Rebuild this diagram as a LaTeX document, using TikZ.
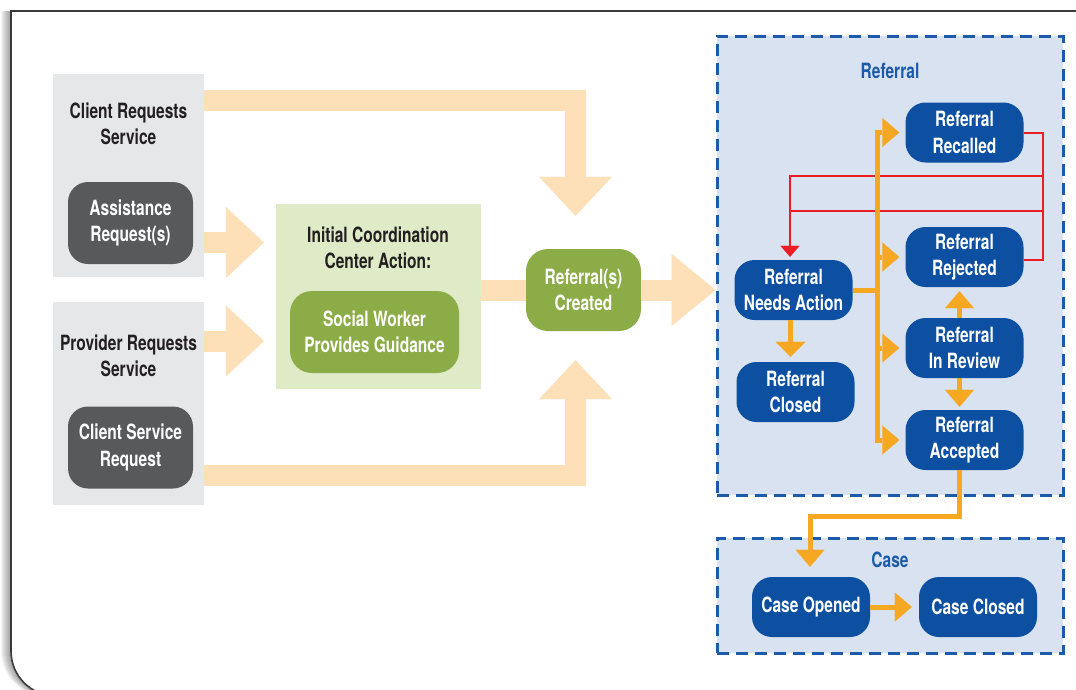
\documentclass[tikz,border=0pt]{standalone}
\usepackage{fontspec}
\newfontfamily\cond{TeX Gyre Heros}[FakeStretch=0.74]
\usetikzlibrary{arrows.meta,calc}

\definecolor{peach}{HTML}{FDE0B7}
\definecolor{panelgray}{HTML}{E6E7E8}
\definecolor{darkbox}{HTML}{58595B}
\definecolor{palegreen}{HTML}{DEEBC6}
\definecolor{leaf}{HTML}{8CAC47}
\definecolor{navy}{HTML}{0D4FA0}
\definecolor{paleblue}{HTML}{D9E2F1}
\definecolor{dashblue}{HTML}{1C5AAA}
\definecolor{amber}{HTML}{F7A823}
\definecolor{alert}{HTML}{ED1C24}
\definecolor{ink}{HTML}{231F20}
\definecolor{framegray}{HTML}{3A3A3A}

\begin{document}
\begin{tikzpicture}[x=1pt,y=-1pt,
  txt/.style={font=\cond\bfseries\fontsize{21}{26.5}\selectfont, align=center, inner sep=0pt},
  panel/.style={fill=panelgray, minimum width=151pt, minimum height=203pt, inner sep=0pt},
  darkpill/.style={txt, fill=darkbox, text=white, rounded corners=20pt, minimum width=125pt, minimum height=82pt},
  greenpill/.style={txt, fill=leaf, text=white, rounded corners=22pt, minimum height=82pt},
  state/.style={txt, fill=navy, text=white, rounded corners=20pt, minimum width=118pt, minimum height=60pt},
  group/.style={fill=paleblue, draw=dashblue, line width=3pt, dash pattern=on 12pt off 7pt, minimum width=346pt, inner sep=0pt},
  bigband/.style={draw=peach, line width=21pt},
  bigarrow/.style={bigband, -{Triangle[width=73pt,length=39pt,line width=0.1pt]}},
  sidearrow/.style={bigband, -{Triangle[width=71pt,length=38pt,line width=0.1pt]}},
  flowline/.style={draw=amber, line width=5pt},
  flow/.style={flowline, -{Triangle[width=29pt,length=17pt,line width=0.1pt]}},
  recall/.style={draw=alert, line width=2pt},
]
\useasboundingbox (0,0) rectangle (1076,689);
\clip (0,0) rectangle (1076,689);

% page frame with a soft shadow on its left side
\foreach \s in {1,...,10}
  \fill[black, opacity=0.045, shift={(-\s,0)}]
    (1110,11) -- (11,11) -- (11,651) .. controls (11,676) and (31,696) .. (56,696) -- (1110,696) -- cycle;
\fill[white] (1110,11) -- (11,11) -- (11,651) .. controls (11,676) and (31,696) .. (56,696) -- (1110,696) -- cycle;
\draw[framegray, line width=1.6pt] (1110,11) -- (11,11) -- (11,651) .. controls (11,676) and (31,696) .. (56,696) -- (1110,696);

% state groups
\node[group, minimum height=459pt] (refgrp) at (890,265.5) {};
\node[group, minimum height=115pt] (casegrp) at (890,595.5) {};
\node[txt, text=dashblue] (reft) at (890,71) {Referral};
\node[txt, text=dashblue] (caset) at (890,560) {Case};

% request sources
\node[panel] (pA) at (128.5,175.5) {};
\node[panel] (pB) at (128.5,403.5) {};
\node[txt, text=ink] (pAt) at (128.5,124) {Client Requests\\Service};
\node[darkpill] (assist) at (130.5,223) {Assistance\\Request(s)};
\node[txt, text=ink] (pBt) at (128.5,356) {Provider Requests\\Service};
\node[darkpill] (csr) at (130.5,447.5) {Client Service\\Request};

% coordination center
\node[fill=palegreen, minimum width=205pt, minimum height=185pt, inner sep=0pt] (icc) at (378.5,296.5) {};
\node[txt, text=ink] (icct) at (378,248) {Initial Coordination\\Center Action:};
\node[greenpill, minimum width=169pt] (social) at (374.5,332) {Social Worker\\Provides Guidance};
\node[greenpill, minimum width=115pt] (created) at (583.5,290) {Referral(s)\\Created};

% referral states
\node[state] (recalled) at (964.5,132.5) {Referral\\Recalled};
\node[state] (rejected) at (964.5,257) {Referral\\Rejected};
\node[state] (needs) at (793.5,290) {Referral\\Needs Action};
\node[state] (review) at (964.5,348) {Referral\\In Review};
\node[state] (accepted) at (964.5,440) {Referral\\Accepted};
\node[state] (closed) at (795.5,392) {Referral\\Closed};
\node[state] (opened) at (811,607) {Case Opened};
\node[state] (caseclosed) at (978,607) {Case Closed};

% wide intake arrows
\coordinate (topbend) at (575.5,100.5);
\coordinate (botbend) at (575.5,475);
\coordinate (inA) at (0,242.5);
\coordinate (inB) at (0,341);
\draw[bigarrow] (pA.east |- topbend) -- (topbend) -- ($(created.north -| topbend)+(0,-33)$);
\draw[bigarrow] (pB.east |- botbend) -- (botbend) -- ($(created.south -| botbend)+(0,29)$);
\draw[sidearrow] (pA.east |- inA) -- ($(icc.west |- inA)+(-12,0)$);
\draw[sidearrow] (pB.east |- inB) -- ($(icc.west |- inB)+(-12,0)$);
\draw[bigband] (icc.east |- created.west) -- (created.west);
\draw[bigband, -{Triangle[width=72pt,length=44pt,line width=0.1pt]}] (created.east) -- (refgrp.west |- created.east);

% recall / reject loops back to needs action
\coordinate (rtl) at (790,176);
\coordinate (rbr) at (1043,211);
\draw[recall] (rtl) rectangle (rbr);
\draw[recall] (recalled.east) -- (recalled.east -| rbr) -- ($(rejected.east -| rbr)+(0,3)$) -- ($(rejected.east)+(0,3)$);
\draw[recall, -{Triangle[width=19pt,length=11pt,line width=0.1pt]}, shorten >=3pt] (rtl) -- (rtl |- needs.north);

% referral flow
\coordinate (trunk) at (877,0);
\draw[flowline] (needs.east) -- (needs.east -| trunk);
\draw[flowline, line cap=rect] (recalled.west -| trunk) -- (accepted.west -| trunk);
\foreach \n in {recalled,rejected,review,accepted}
  \draw[flow, shorten >=6pt] (\n.west -| trunk) -- (\n.west);
\draw[flow, -{Triangle[width=30pt,length=15pt,line width=0.1pt]}, shorten >=5pt]
  ($(needs.south)+(-3,0)$) -- ($(needs.south |- closed.north)+(-3,0)$);
\draw[flow, shorten >=4pt] ($(review.north)+(-5,0)$) -- ($(rejected.south)+(-5,0)$);
\draw[flow, shorten >=3pt] ($(review.south)+(-5,0)$) -- ($(accepted.north)+(-5,0)$);
\coordinate (drop) at (0,516);
\draw[flow, shorten >=10pt] ($(accepted.south)+(-5,0)$) |- ($(drop -| opened.north)+(-1,0)$) -- ($(opened.north)+(-1,0)$);
\draw[flow, shorten >=7pt] (opened.east) -- (caseclosed.west);
\end{tikzpicture}
\end{document}
